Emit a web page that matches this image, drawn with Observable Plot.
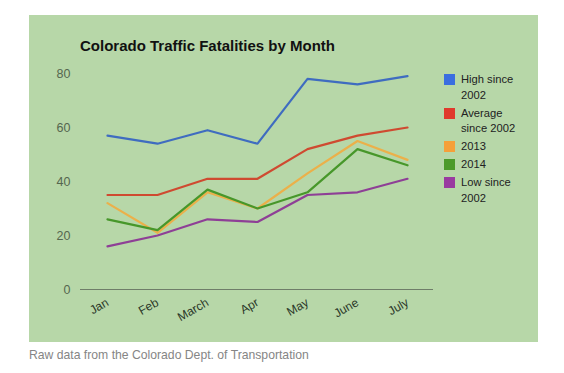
<!DOCTYPE html>
<html>
<head>
<meta charset="utf-8">
<script src="https://cdn.jsdelivr.net/npm/d3@7"></script>
<script src="https://cdn.jsdelivr.net/npm/@observablehq/plot@0.6"></script>
<style>
  html, body { margin: 0; padding: 0; background: #ffffff; }
  body { width: 564px; height: 373px; position: relative; overflow: hidden; font-family: Arial, "Liberation Sans", sans-serif; }
  #panel { position: absolute; left: 29px; top: 15px; width: 509px; height: 327px; background: #b7d7a8; }
  #title { position: absolute; left: 51px; top: 22px; font-size: 15px; font-weight: bold; color: #111; white-space: nowrap; }
  #legend { position: absolute; left: 415px; top: 57px; font-size: 11.2px; color: #222; }
  .item { position: relative; padding-left: 17px; line-height: 15.5px; margin-bottom: 2.5px; }
  .sw { position: absolute; left: 0; top: 2px; width: 11px; height: 11px; }
  #caption { position: absolute; left: 29px; top: 348px; font-size: 12.2px; color: #858585; white-space: nowrap; }
  #chart svg { position: absolute; left: 0; top: 0; }
</style>
</head>
<body>
<div id="panel">
  <div id="chart"></div>
  <div id="title">Colorado Traffic Fatalities by Month</div>
  <div id="legend"></div>
</div>
<div id="caption">Raw data from the Colorado Dept. of Transportation</div>
<script>
const months = ["Jan", "Feb", "March", "Apr", "May", "June", "July"];
const seriesNames = ["High since 2002", "Average since 2002", "2013", "2014", "Low since 2002"];
const legendLines = [["High since", "2002"], ["Average", "since 2002"], ["2013"], ["2014"], ["Low since", "2002"]];
const highSince2002 = [57, 54, 59, 54, 78, 76, 79];
const averageSince2002 = [35, 35, 41, 41, 52, 57, 60];
const y2013 = [32, 21, 36, 30, 43, 55, 48];
const y2014 = [26, 22, 37, 30, 36, 52, 46];
const lowSince2002 = [16, 20, 26, 25, 35, 36, 41];
const yTicks = [0, 20, 40, 60, 80];
const lineColors = ["#3f6cc0", "#cf4a30", "#ebb04a", "#47972a", "#8e3f96"];
const swatchColors = ["#3a6ee0", "#e03a2c", "#f5a03a", "#4c9a2a", "#993aa0"];

const seriesValues = [highSince2002, averageSince2002, y2013, y2014, lowSince2002];
const data = [];
seriesNames.forEach((s, i) => months.forEach((m, j) => data.push({series: s, month: m, value: seriesValues[i][j]})));

const chart = Plot.plot({
  width: 509,
  height: 327,
  marginLeft: 51,
  marginRight: 105,
  marginTop: 58,
  marginBottom: 53,
  style: {background: "transparent", fontFamily: "Arial, 'Liberation Sans', sans-serif", overflow: "visible"},
  x: {type: "point", domain: months, padding: 0.53, label: null},
  y: {domain: [0, 80], label: null},
  color: {domain: seriesNames, range: lineColors},
  marks: [
    Plot.axisY({ticks: yTicks, tickSize: 0, tickPadding: 10, fontSize: 12.5, fill: "#55664f", label: null}),
    Plot.axisX({tickSize: 0, tickPadding: 12, tickRotate: -30, fontSize: 12, fill: "#2b3828", label: null, dx: 0}),
    Plot.ruleY([0], {stroke: "#6f7d69", strokeWidth: 1}),
    Plot.line(data, {x: "month", y: "value", z: "series", stroke: "series", strokeWidth: 2.2, curve: "linear"})
  ]
});
document.getElementById("chart").appendChild(chart);

const legend = document.getElementById("legend");
seriesNames.forEach((s, i) => {
  const item = document.createElement("div");
  item.className = "item";
  const sw = document.createElement("div");
  sw.className = "sw";
  sw.style.background = swatchColors[i];
  item.appendChild(sw);
  legendLines[i].forEach(t => {
    const d = document.createElement("div");
    d.textContent = t;
    item.appendChild(d);
  });
  legend.appendChild(item);
});
</script>
</body>
</html>
